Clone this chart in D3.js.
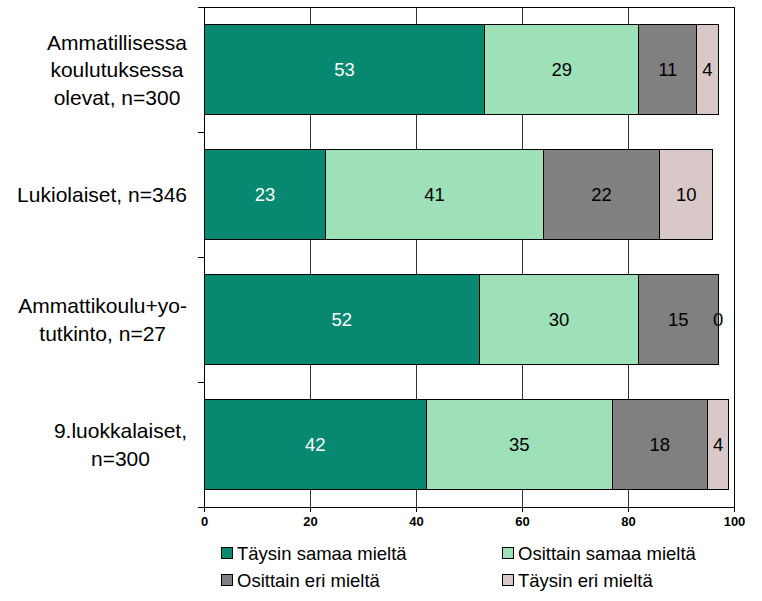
<!DOCTYPE html>
<html><head><meta charset="utf-8">
<script src="https://cdn.jsdelivr.net/npm/d3@7"></script>
<style>body{margin:0;background:#fff}svg{display:block;font-family:Arial,"Liberation Sans",sans-serif}</style>
</head><body>
<svg id="c" width="762" height="601"></svg>
<script>
const categories = [
  ["Ammatillisessa","koulutuksessa","olevat, n=300"],
  ["Lukiolaiset, n=346"],
  ["Ammattikoulu+yo-","tutkinto, n=27"],
  ["9.luokkalaiset,","n=300"]
];
const seriesNames = ["Täysin samaa mieltä","Osittain samaa mieltä","Osittain eri mieltä","Täysin eri mieltä"];
const seriesColors = ["#078870","#9EE0B8","#808080","#D9C8C8"];
const labelColors = ["#ffffff","#000000","#000000","#000000"];
const values = [
  [53,29,11,4],
  [23,41,22,10],
  [52,30,15,0],
  [42,35,18,4]
];
const xTicks = [0,20,40,60,80,100];

const svg = d3.select("#c");
const L=204,R=734,T=7,B=507;
const x = d3.scaleLinear().domain([0,100]).range([L,R]);
const y = d3.scaleBand().domain(d3.range(categories.length)).range([T,B]).paddingInner(0.28).paddingOuter(0.14);

// gridlines
svg.append("g").selectAll("line").data(xTicks.slice(1,-1)).join("line")
  .attr("x1",d=>x(d)).attr("x2",d=>x(d)).attr("y1",T).attr("y2",B)
  .attr("stroke","#333").attr("stroke-width",1).attr("shape-rendering","crispEdges");
// border
svg.append("rect").attr("x",L).attr("y",T).attr("width",R-L).attr("height",B-T)
  .attr("fill","none").attr("stroke","#000").attr("shape-rendering","crispEdges");

// bars
const stackData = values.map((row,i)=>{let c=0;return row.map((v,j)=>{const s={i,j,x0:c,x1:c+v,v};c+=v;return s;});});
const g = svg.append("g");
stackData.forEach(row=>{
  row.forEach(s=>{
    if(s.v>0) g.append("rect").attr("x",x(s.x0)).attr("y",y(s.i)).attr("width",x(s.x1)-x(s.x0)).attr("height",y.bandwidth())
      .attr("fill",seriesColors[s.j]).attr("stroke","#000").attr("stroke-width",1).attr("shape-rendering","crispEdges");
  });
  row.forEach(s=>{
    g.append("text").attr("x",(x(s.x0)+x(s.x1))/2).attr("y",y(s.i)+y.bandwidth()/2).attr("dy","0.36em")
      .attr("text-anchor","middle").attr("font-size",18.5).attr("fill",labelColors[s.j]).text(s.v);
  });
});

// x axis
const xAxis = d3.axisBottom(x).tickValues(xTicks).tickSize(5).tickPadding(5);
const xa = svg.append("g").attr("transform",`translate(0,${B})`).call(xAxis);
xa.select(".domain").attr("stroke","#000");
xa.selectAll(".tick line").attr("stroke","#000");
xa.selectAll("text").attr("font-size",13).attr("font-weight","bold").attr("fill","#000").attr("font-family","Arial,'Liberation Sans',sans-serif");

// y axis line and category separator ticks
const bounds = d3.range(categories.length+1).map(i=>T+i*(B-T)/categories.length);
svg.append("line").attr("x1",L).attr("x2",L).attr("y1",T).attr("y2",B).attr("stroke","#000").attr("shape-rendering","crispEdges");
svg.append("g").selectAll("line").data(bounds).join("line")
  .attr("x1",L-6).attr("x2",L).attr("y1",d=>d).attr("y2",d=>d).attr("stroke","#000").attr("shape-rendering","crispEdges");

// category labels
const catG = svg.append("g");
categories.forEach((lines,i)=>{
  const t = catG.append("text").attr("font-size",21).attr("text-anchor","middle").attr("fill","#000");
  const cy = y(i)+y.bandwidth()/2;
  const lh = 27.5;
  lines.forEach((ln,k)=>{
    t.append("tspan").attr("y",cy+(k-(lines.length-1)/2)*lh).attr("dy","0.36em").text(ln);
  });
  let w=0;
  t.selectAll("tspan").each(function(){w=Math.max(w,this.getComputedTextLength());});
  t.selectAll("tspan").attr("x",187-w/2);
});

// legend
const legPos = [[221,553],[502,553],[221,580],[502,580]];
const lg = svg.append("g");
seriesNames.forEach((n,j)=>{
  const [lx,ly]=legPos[j];
  lg.append("rect").attr("x",lx).attr("y",ly-6).attr("width",11).attr("height",11)
    .attr("fill",seriesColors[j]).attr("stroke","#000").attr("shape-rendering","crispEdges");
  lg.append("text").attr("x",lx+16).attr("y",ly).attr("dy","0.36em").attr("font-size",18.5).attr("fill","#000").text(n);
});
</script>
</body></html>
